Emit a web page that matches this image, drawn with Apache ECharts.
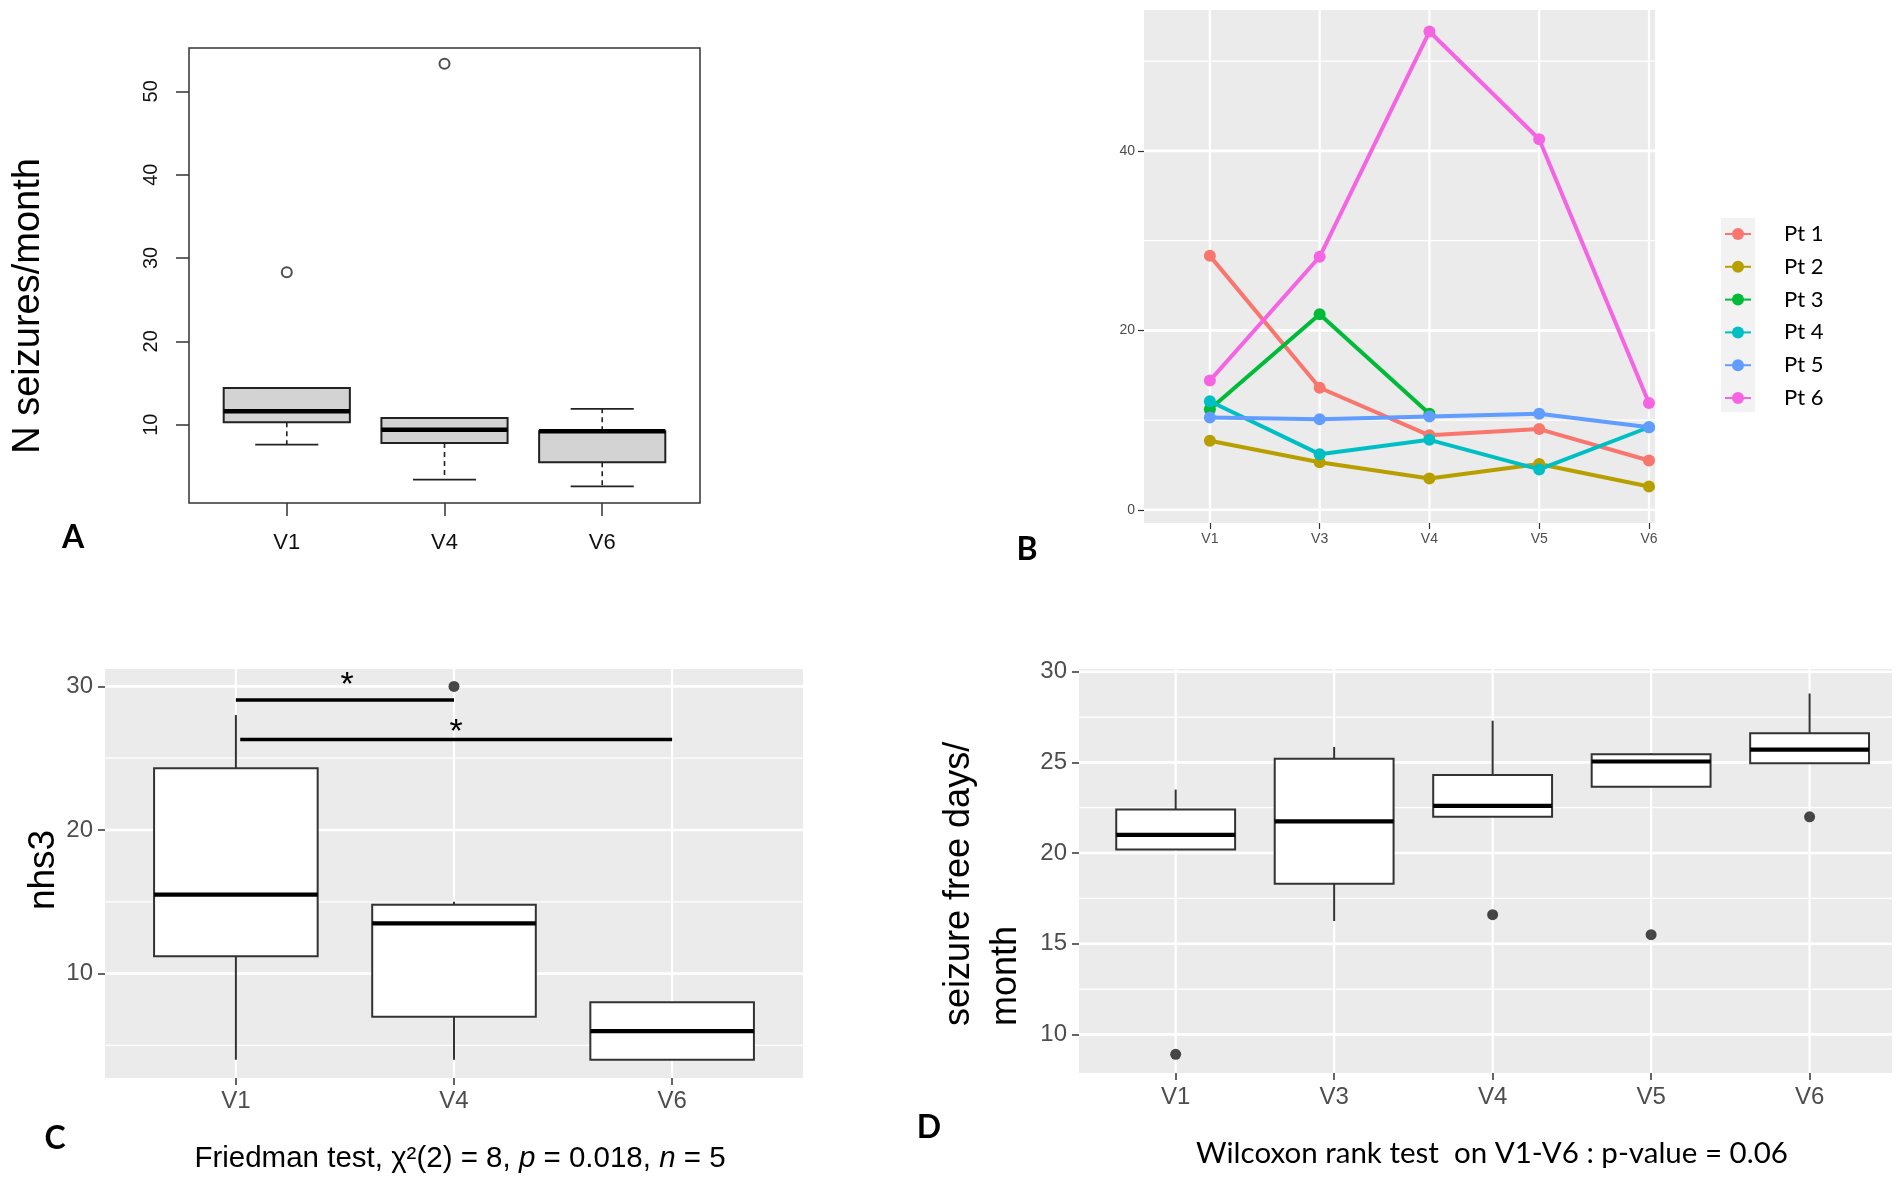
<!DOCTYPE html>
<html>
<head>
<meta charset="utf-8">
<script src="https://cdn.jsdelivr.net/npm/echarts@6/dist/echarts.min.js"></script>
<style>
html, body { margin: 0; padding: 0; background: #fff; }
#chart { width: 1902px; height: 1183px; }
</style>
</head>
<body>
<div id="chart"></div>
<script>
var chart = echarts.init(document.getElementById('chart'));
var fontsty = 'Liberation Sans';
var calsty = 'Lato';

// ---- A : seizures per month (R boxplot) ----
var catsA = ['V1', 'V4', 'V6'];
// [lower whisker, Q1, median, Q3, upper whisker]
var boxA = [
  [7.6, 10.3, 11.6, 14.4, 14.4],
  [3.4, 7.8, 9.4, 10.8, 10.8],
  [2.6, 5.5, 9.2, 9.2, 11.9]
];
var outA = [[0, 28.3], [1, 53.3]];
var ticksA = [10, 20, 30, 40, 50];

// ---- B : seizures per month per patient ----
var visitsB = ['V1', 'V3', 'V4', 'V5', 'V6'];
var namesB = ['Pt 1', 'Pt 2', 'Pt 3', 'Pt 4', 'Pt 5', 'Pt 6'];
var pt1 = [28.3, 13.6, 8.3, 9.0, 5.5];
var pt2 = [7.7, 5.3, 3.5, 5.1, 2.6];
var pt3 = [11.2, 21.8, 10.7, null, null];
var pt4 = [12.1, 6.2, 7.8, 4.5, 9.2];
var pt5 = [10.3, 10.1, 10.4, 10.7, 9.2];
var pt6 = [14.4, 28.2, 53.3, 41.3, 11.9];
var colorsB = ['#F8766D', '#B79F00', '#00BA38', '#00BFC4', '#619CFF', '#F564E3'];
var ticksB = [0, 20, 40];
var minorB = [10, 30, 50];

// ---- C : nhs3 ----
var catsC = ['V1', 'V4', 'V6'];
var boxC = [
  [4.0, 11.2, 15.5, 24.3, 28.0],
  [4.0, 7.0, 13.5, 14.8, 15.0],
  [4.0, 4.0, 6.0, 8.0, 8.0]
];
var outC = [[1, 30]];
var ticksC = [10, 20, 30];
var minorC = [5, 15, 25];
// [from, to, bar y, star x, star y]
var sigC = [
  [0, 1, 29.05, 0.51, 30.65],
  [0.02, 2, 26.3, 1.01, 27.4]
];

// ---- D : seizure free days per month ----
var catsD = ['V1', 'V3', 'V4', 'V5', 'V6'];
var boxD = [
  [20.2, 20.2, 21.0, 22.4, 23.5],
  [16.25, 18.3, 21.75, 25.2, 25.85],
  [22.0, 22.0, 22.6, 24.3, 27.3],
  [23.65, 23.65, 25.05, 25.45, 25.5],
  [24.95, 24.95, 25.7, 26.6, 28.8]
];
var outD = [[0, 8.9], [2, 16.6], [3, 15.5], [4, 22.0]];
var ticksD = [10, 15, 20, 25, 30];
var minorD = [12.5, 17.5, 22.5, 27.5];

function idx(n) {
  var a = [];
  for (var i = 0; i < n; i++) a.push(i);
  return a;
}

function boxItems(stats) {
  return stats.map(function (s, i) { return [i].concat(s); });
}

// white ggplot grid lines: [direction, value, width]
function gridItems(major, minor, nx) {
  var out = [];
  minor.forEach(function (v) { out.push([0, v, 1.3]); });
  major.forEach(function (v) { out.push([0, v, 2.6]); });
  idx(nx).forEach(function (v) { out.push([1, v, 2.2]); });
  return out;
}

function renderGrid(params, api) {
  var cs = params.coordSys;
  var dir = api.value(0), v = api.value(1), w = api.value(2);
  var shape;
  if (dir === 0) {
    var y = api.coord([0, v])[1];
    shape = { x1: cs.x, y1: y, x2: cs.x + cs.width, y2: y };
  } else {
    var x = api.coord([v, 10])[0];
    shape = { x1: x, y1: cs.y, x2: x, y2: cs.y + cs.height };
  }
  return { type: 'line', shape: shape, silent: true, style: { stroke: '#ffffff', lineWidth: w } };
}

function boxRenderer(cfg) {
  return function (params, api) {
    var x = api.value(0);
    var lo = api.coord([x, api.value(1)]);
    var q1 = api.coord([x, api.value(2)]);
    var md = api.coord([x, api.value(3)]);
    var q3 = api.coord([x, api.value(4)]);
    var hi = api.coord([x, api.value(5)]);
    var cx = md[0];
    var hw = api.size([cfg.width, 0])[0] / 2;
    var ws = { stroke: cfg.stroke, lineWidth: cfg.whisker };
    if (cfg.dash) ws.lineDash = cfg.dash;
    var kids = [
      { type: 'line', shape: { x1: cx, y1: q3[1], x2: cx, y2: hi[1] }, style: ws },
      { type: 'line', shape: { x1: cx, y1: q1[1], x2: cx, y2: lo[1] }, style: ws },
      { type: 'rect', shape: { x: cx - hw, y: q3[1], width: hw * 2, height: q1[1] - q3[1] },
        style: { fill: cfg.fill, stroke: cfg.stroke, lineWidth: cfg.border } },
      { type: 'line', shape: { x1: cx - hw, y1: md[1], x2: cx + hw, y2: md[1] },
        style: { stroke: '#000', lineWidth: cfg.median } }
    ];
    if (cfg.staple) {
      var sw = hw * cfg.staple;
      kids.push({ type: 'line', shape: { x1: cx - sw, y1: lo[1], x2: cx + sw, y2: lo[1] }, style: { stroke: cfg.stroke, lineWidth: cfg.whisker } });
      kids.push({ type: 'line', shape: { x1: cx - sw, y1: hi[1], x2: cx + sw, y2: hi[1] }, style: { stroke: cfg.stroke, lineWidth: cfg.whisker } });
    }
    return { type: 'group', children: kids };
  };
}

function renderSig(params, api) {
  var a = api.coord([api.value(0), api.value(2)]);
  var b = api.coord([api.value(1), api.value(2)]);
  var s = api.coord([api.value(3), api.value(4)]);
  return {
    type: 'group',
    children: [
      { type: 'line', shape: { x1: a[0], y1: a[1], x2: b[0], y2: b[1] }, style: { stroke: '#000', lineWidth: 3.5 } },
      { type: 'text', x: s[0], y: s[1] + 9,
        style: { text: '*', fontSize: 34, fontFamily: fontsty, fill: '#000', align: 'center', verticalAlign: 'middle' } }
    ]
  };
}

function catAxis(grid, cats, min, max, o) {
  return {
    gridIndex: grid, type: 'value', min: min, max: max,
    axisLine: { show: false, onZero: false },
    axisTick: { show: true, length: o.tick, customValues: idx(cats.length), lineStyle: { color: '#333', width: o.tw } },
    axisLabel: {
      customValues: idx(cats.length), margin: o.margin, fontSize: o.size, color: o.color, fontFamily: fontsty,
      formatter: function (v) { return cats[Math.round(v)]; }
    },
    splitLine: { show: false }
  };
}

function valAxis(grid, ticks, min, max, o) {
  return {
    gridIndex: grid, type: 'value', min: min, max: max,
    axisLine: { show: false, onZero: false },
    axisTick: { show: true, length: o.tick, customValues: ticks, lineStyle: { color: '#333', width: o.tw } },
    axisLabel: {
      customValues: ticks, margin: o.margin, fontSize: o.size, color: o.color, fontFamily: fontsty,
      rotate: o.rotate || 0
    },
    splitLine: { show: false }
  };
}

var seriesB = [pt1, pt2, pt3, pt4, pt5, pt6].map(function (arr, k) {
  var pts = [];
  arr.forEach(function (v, i) { if (v !== null) pts.push([i, v]); });
  return {
    name: namesB[k], type: 'line', xAxisIndex: 1, yAxisIndex: 1, z: 3,
    data: pts, symbol: 'circle', symbolSize: 12, showSymbol: true,
    lineStyle: { width: 4, color: colorsB[k] },
    itemStyle: { color: colorsB[k] }
  };
});

var option = {
  animation: false,
  backgroundColor: '#ffffff',
  textStyle: { fontFamily: fontsty },
  grid: [
    { left: 189, top: 48, width: 511, height: 455, show: true, backgroundColor: '#ffffff', borderColor: '#333', borderWidth: 1.5, outerBoundsMode: 'none' },
    { left: 1144, top: 10, width: 511, height: 513, show: true, backgroundColor: '#EBEBEB', borderWidth: 0, outerBoundsMode: 'none' },
    { left: 105, top: 669, width: 698, height: 409, show: true, backgroundColor: '#EBEBEB', borderWidth: 0, outerBoundsMode: 'none' },
    { left: 1079, top: 669, width: 813, height: 404, show: true, backgroundColor: '#EBEBEB', borderWidth: 0, outerBoundsMode: 'none' }
  ],
  xAxis: [
    catAxis(0, catsA, -0.62, 2.62, { tick: 13, tw: 1.5, margin: 29, size: 22, color: '#111' }),
    catAxis(1, visitsB, -0.6, 4.055, { tick: 6, tw: 1.2, margin: 9, size: 14, color: '#4D4D4D' }),
    catAxis(2, catsC, -0.6, 2.6, { tick: 7, tw: 1.5, margin: 11, size: 24, color: '#4D4D4D' }),
    catAxis(3, catsD, -0.61, 4.52, { tick: 7, tw: 1.5, margin: 12, size: 24, color: '#4D4D4D' })
  ],
  yAxis: [
    valAxis(0, ticksA, 0.6, 55.2, { tick: 13, tw: 1.5, margin: 28, size: 20, color: '#111', rotate: 90 }),
    valAxis(1, ticksB, -1.47, 55.7, { tick: 6, tw: 1.2, margin: 9, size: 14, color: '#4D4D4D' }),
    valAxis(2, ticksC, 2.73, 31.21, { tick: 7, tw: 1.5, margin: 12, size: 24, color: '#4D4D4D' }),
    valAxis(3, ticksD, 7.87, 30.15, { tick: 7, tw: 1.5, margin: 12, size: 24, color: '#4D4D4D' })
  ],
  legend: {
    data: namesB, orient: 'vertical', left: 1724, top: 223, padding: 0,
    itemWidth: 26, itemHeight: 15, itemGap: 10.8, selectedMode: false,
    textStyle: { fontFamily: calsty, fontSize: 22, color: '#000', lineHeight: 22, padding: [0, 0, 0, 28] }
  },
  series: [
    // B
    { type: 'custom', xAxisIndex: 1, yAxisIndex: 1, z: 1, silent: true, renderItem: renderGrid, data: gridItems(ticksB, minorB, visitsB.length) }
  ].concat(seriesB).concat([
    // C
    { type: 'custom', xAxisIndex: 2, yAxisIndex: 2, z: 1, silent: true, renderItem: renderGrid, data: gridItems(ticksC, minorC, catsC.length) },
    { type: 'custom', xAxisIndex: 2, yAxisIndex: 2, z: 3, renderItem: boxRenderer({ width: 0.75, fill: '#ffffff', stroke: '#333', border: 2, whisker: 2, median: 4.2 }), data: boxItems(boxC) },
    { type: 'scatter', xAxisIndex: 2, yAxisIndex: 2, z: 4, symbolSize: 11, itemStyle: { color: '#1a1a1a' }, data: outC },
    { type: 'custom', xAxisIndex: 2, yAxisIndex: 2, z: 5, renderItem: renderSig, data: sigC },
    // D
    { type: 'custom', xAxisIndex: 3, yAxisIndex: 3, z: 1, silent: true, renderItem: renderGrid, data: gridItems(ticksD, minorD, catsD.length) },
    { type: 'custom', xAxisIndex: 3, yAxisIndex: 3, z: 3, renderItem: boxRenderer({ width: 0.75, fill: '#ffffff', stroke: '#333', border: 2, whisker: 2, median: 4.2 }), data: boxItems(boxD) },
    { type: 'scatter', xAxisIndex: 3, yAxisIndex: 3, z: 4, symbolSize: 11, itemStyle: { color: '#1a1a1a' }, data: outD },
    // A
    { type: 'custom', xAxisIndex: 0, yAxisIndex: 0, z: 3, renderItem: boxRenderer({ width: 0.8, fill: '#D3D3D3', stroke: '#222', border: 2, whisker: 1.6, median: 4.5, dash: [5, 4], staple: 0.5 }), data: boxItems(boxA) },
    { type: 'scatter', xAxisIndex: 0, yAxisIndex: 0, z: 4, symbol: 'emptyCircle', symbolSize: 10, itemStyle: { color: '#222', borderWidth: 1.5 }, data: outA }
  ]),
  graphic: [
    { type: 'rect', x: 1721, y: 218, z: 0, shape: { width: 34, height: 194 }, style: { fill: '#F2F2F2' } },
    { type: 'text', x: 29, y: 306, rotation: Math.PI / 2,
      style: { text: 'N seizures/month', fontSize: 38, fontFamily: fontsty, fill: '#000', align: 'center', verticalAlign: 'middle' } },
    { type: 'text', x: 44, y: 870, rotation: Math.PI / 2,
      style: { text: 'nhs3', fontSize: 37, fontFamily: fontsty, fill: '#000', align: 'center', verticalAlign: 'middle' } },
    { type: 'text', x: 959, y: 1026, rotation: Math.PI / 2,
      style: { text: 'seizure free days/', fontSize: 36, fontFamily: fontsty, fill: '#000', align: 'left', verticalAlign: 'middle' } },
    { type: 'text', x: 1006, y: 1026, rotation: Math.PI / 2,
      style: { text: 'month', fontSize: 36, fontFamily: fontsty, fill: '#000', align: 'left', verticalAlign: 'middle' } },
    { type: 'text', x: 460, y: 1159,
      style: {
        text: '{a|Friedman test, χ²(2) = 8, }{i|p}{a| = 0.018, }{i|n}{a| = 5}',
        align: 'center', verticalAlign: 'middle',
        rich: {
          a: { fontSize: 29.5, fontFamily: fontsty, fill: '#000' },
          i: { fontSize: 29.5, fontFamily: fontsty, fontStyle: 'italic', fill: '#000' }
        }
      } },
    { type: 'text', x: 1492, y: 1153,
      style: { text: 'Wilcoxon rank test  on V1-V6 : p-value = 0.06', fontSize: 29.5, fontFamily: calsty, fill: '#000', align: 'center', verticalAlign: 'middle' } },
    { type: 'text', x: 73, y: 538, style: { text: 'A', fontSize: 32, fontWeight: 'bold', fontFamily: calsty, fill: '#000', align: 'center', verticalAlign: 'middle' } },
    { type: 'text', x: 1027, y: 550, style: { text: 'B', fontSize: 32, fontWeight: 'bold', fontFamily: calsty, fill: '#000', align: 'center', verticalAlign: 'middle' } },
    { type: 'text', x: 55, y: 1139, style: { text: 'C', fontSize: 32, fontWeight: 'bold', fontFamily: calsty, fill: '#000', align: 'center', verticalAlign: 'middle' } },
    { type: 'text', x: 929, y: 1128, style: { text: 'D', fontSize: 32, fontWeight: 'bold', fontFamily: calsty, fill: '#000', align: 'center', verticalAlign: 'middle' } }
  ]
};

chart.setOption(option);
</script>
</body>
</html>
